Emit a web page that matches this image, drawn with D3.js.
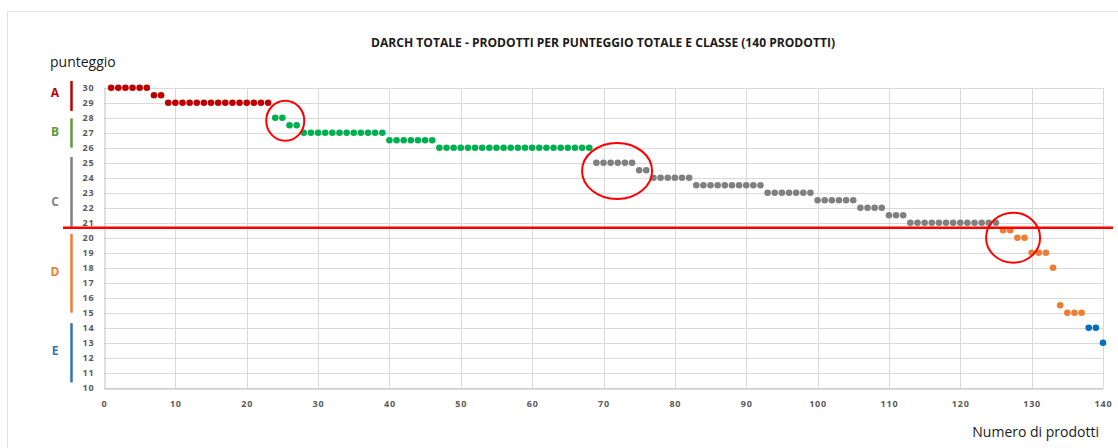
<!DOCTYPE html>
<html lang="it">
  <head>
    <meta charset="UTF-8" />
    <title>DARCH totale</title>
    <style>
      body { margin: 0; background: #fff; }
      text { font-family: "Open Sans", "Liberation Sans", sans-serif; }
    </style>
  </head>
  <body>
    <svg width="1118" height="448"></svg>

    <script src="https://d3js.org/d3.v7.min.js"></script>
    <script>
      (function () {
        "use strict";

        var WIDTH = 1118;
        var HEIGHT = 448;

        // punteggio per ogni prodotto (1..140), in ordine decrescente
        var scoresA = [30, 30, 30, 30, 30, 30, 29.5, 29.5,
          29, 29, 29, 29, 29, 29, 29, 29, 29, 29, 29, 29, 29, 29, 29];
        var scoresB = [28, 28, 27.5, 27.5,
          27, 27, 27, 27, 27, 27, 27, 27, 27, 27, 27, 27,
          26.5, 26.5, 26.5, 26.5, 26.5, 26.5, 26.5,
          26, 26, 26, 26, 26, 26, 26, 26, 26, 26, 26, 26, 26, 26, 26, 26, 26, 26, 26, 26, 26, 26];
        var scoresC = [25, 25, 25, 25, 25, 25, 24.5, 24.5,
          24, 24, 24, 24, 24, 24,
          23.5, 23.5, 23.5, 23.5, 23.5, 23.5, 23.5, 23.5, 23.5, 23.5,
          23, 23, 23, 23, 23, 23, 23,
          22.5, 22.5, 22.5, 22.5, 22.5, 22.5,
          22, 22, 22, 22,
          21.5, 21.5, 21.5,
          21, 21, 21, 21, 21, 21, 21, 21, 21, 21, 21, 21, 21];
        var scoresD = [20.5, 20.5, 20, 20, 19, 19, 19, 18, 15.5, 15, 15, 15];
        var scoresE = [14, 14, 13];

        var classi = ["A", "B", "C", "D", "E"];
        var coloriPunti = ["#c00000", "#00b050", "#808080", "#ed7d31", "#0070c0"];
        var coloriClasse = ["#c00000", "#5b9b3c", "#7f7f7f", "#ed7d31", "#2e75b6"];
        // intervallo di punteggio coperto dalla barra di ogni classe
        var fasceClasse = [[28.45, 30.45], [26.0, 27.95], [20.73, 25.38], [15.0, 20.25], [10.35, 14.3]];
        var livelloEtichetta = [29.67, 27.07, 22.4, 17.73, 12.47];

        var xTicks = [0, 10, 20, 30, 40, 50, 60, 70, 80, 90, 100, 110, 120, 130, 140];
        var yTicks = [10, 11, 12, 13, 14, 15, 16, 17, 18, 19, 20, 21, 22, 23, 24, 25, 26, 27, 28, 29, 30];

        var soglia = 20.67; // linea rossa tra C e D
        // cerchi rossi: centro in unità dei dati, raggi in px
        var evidenziati = [
          { x: 25.4, y: 27.8, rx: 19, ry: 20 },
          { x: 71.9, y: 24.45, rx: 35, ry: 28 },
          { x: 127.4, y: 20.0, rx: 27, ry: 25 }
        ];

        var svg = d3.select("svg");

        // tutti i punti con classe
        var data = [];
        [scoresA, scoresB, scoresC, scoresD, scoresE].forEach(function (arr, c) {
          arr.forEach(function (v) {
            data.push({ n: data.length + 1, v: v, c: c });
          });
        });

        var x = d3.scaleLinear().domain([0, 140]).range([104, 1103]);
        var y = d3.scaleLinear().domain([10, 30]).range([387.7, 87.7]);

        // cornice esterna
        svg.append("path")
          .attr("d", "M7.5," + HEIGHT + " V11.5 H" + WIDTH)
          .attr("fill", "none")
          .attr("stroke", "#e3e3e3");

        // griglia
        svg.append("g")
          .selectAll("line")
          .data(yTicks)
          .enter()
          .append("line")
          .attr("x1", x(0)).attr("x2", x(140))
          .attr("y1", function (d) { return Math.round(y(d)) + 0.5; })
          .attr("y2", function (d) { return Math.round(y(d)) + 0.5; })
          .attr("stroke", "#d9d9d9");

        svg.append("g")
          .selectAll("line")
          .data(xTicks.slice(1))
          .enter()
          .append("line")
          .attr("x1", function (d) { return Math.round(x(d)) + 0.5; })
          .attr("x2", function (d) { return Math.round(x(d)) + 0.5; })
          .attr("y1", y(30)).attr("y2", y(10))
          .attr("stroke", "#d9d9d9");

        // assi
        var xAxis = d3.axisBottom(x).tickValues(xTicks).tickSize(0).tickPadding(10);
        var gx = svg.append("g")
          .attr("transform", "translate(0," + (Math.round(y(10)) + 0.5) + ")")
          .call(xAxis);
        var yAxis = d3.axisLeft(y).tickValues(yTicks).tickSize(0).tickPadding(10);
        var gy = svg.append("g")
          .attr("transform", "translate(" + (Math.round(x(0)) + 0.5) + ",0)")
          .call(yAxis);

        [gx, gy].forEach(function (g) {
          g.select(".domain").attr("stroke", "#bfbfbf");
          g.selectAll("text")
            .attr("fill", "#595959")
            .style("font-size", "9px")
            .style("font-weight", "700")
            .style("letter-spacing", "0.8px");
        });
        gx.selectAll("text").attr("dy", "0.9em");

        // barre e lettere delle classi
        svg.append("g")
          .selectAll("line")
          .data(fasceClasse)
          .enter()
          .append("line")
          .attr("x1", 71.5).attr("x2", 71.5)
          .attr("y1", function (d) { return y(d[1]); })
          .attr("y2", function (d) { return y(d[0]); })
          .attr("stroke", function (d, i) { return coloriClasse[i]; })
          .attr("stroke-width", 2.5);

        svg.append("g")
          .selectAll("text")
          .data(classi)
          .enter()
          .append("text")
          .attr("x", 55)
          .attr("y", function (d, i) { return y(livelloEtichetta[i]); })
          .attr("dy", "0.35em")
          .attr("text-anchor", "middle")
          .attr("fill", function (d, i) { return coloriClasse[i]; })
          .style("font-size", "12px")
          .style("font-weight", "700")
          .text(function (d) { return d; });

        // punti
        svg.append("g")
          .selectAll("circle")
          .data(data)
          .enter()
          .append("circle")
          .attr("cx", function (d) { return x(d.n); })
          .attr("cy", function (d) { return y(d.v); })
          .attr("r", 3.3)
          .attr("fill", function (d) { return coloriPunti[d.c]; });

        // linea di soglia
        svg.append("line")
          .attr("x1", 63).attr("x2", 1113)
          .attr("y1", y(soglia)).attr("y2", y(soglia))
          .attr("stroke", "#ff0000")
          .attr("stroke-width", 2.5);

        // cerchi di evidenza
        svg.append("g")
          .selectAll("ellipse")
          .data(evidenziati)
          .enter()
          .append("ellipse")
          .attr("cx", function (d) { return x(d.x); })
          .attr("cy", function (d) { return y(d.y); })
          .attr("rx", function (d) { return d.rx; })
          .attr("ry", function (d) { return d.ry; })
          .attr("fill", "none")
          .attr("stroke", "#ff0000")
          .attr("stroke-width", 2);

        // testi
        svg.append("text")
          .attr("x", 603).attr("y", 47)
          .attr("text-anchor", "middle")
          .attr("fill", "#1a1a1a")
          .attr("textLength", 464)
          .attr("lengthAdjust", "spacingAndGlyphs")
          .style("font-size", "12px")
          .style("font-weight", "700")
          .text("DARCH TOTALE - PRODOTTI PER PUNTEGGIO TOTALE E CLASSE (140 PRODOTTI)");

        svg.append("text")
          .attr("x", 50).attr("y", 67)
          .attr("fill", "#1a1a1a")
          .style("font-size", "14px")
          .text("punteggio");

        svg.append("text")
          .attr("x", 1099).attr("y", 437)
          .attr("text-anchor", "end")
          .attr("fill", "#1a1a1a")
          .style("font-size", "14px")
          .text("Numero di prodotti");
      })();
    </script>
  </body>
</html>
